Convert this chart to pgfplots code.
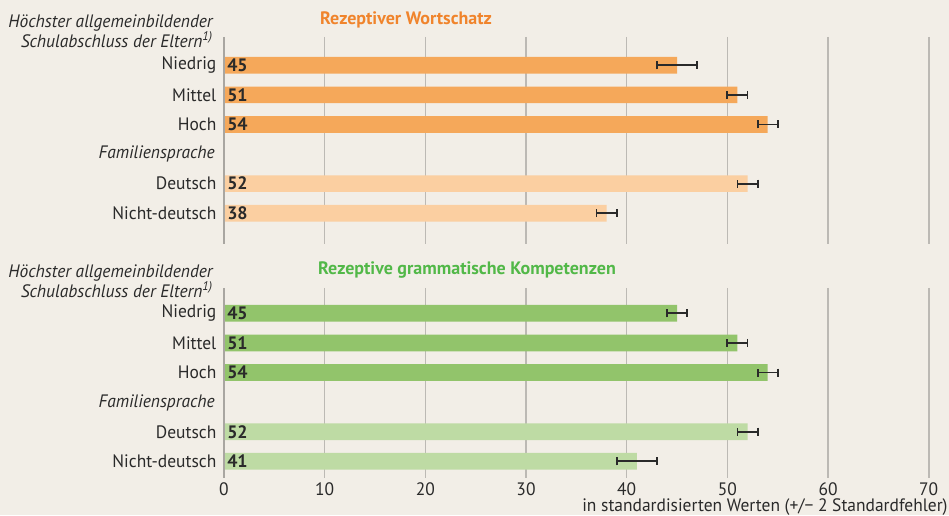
\documentclass[border=0pt]{standalone}
\usepackage{fontspec}
\setmainfont{PT Sans}[FakeStretch=0.97, BoldFeatures={FakeStretch=1.0}]
\usepackage{pgfplots}
\pgfplotsset{compat=1.18}
\definecolor{bgc}{HTML}{F2EEE7}
\definecolor{orA}{HTML}{F5A85A}
\definecolor{orB}{HTML}{FBCFA1}
\definecolor{grA}{HTML}{92C46B}
\definecolor{grB}{HTML}{BEDBA4}
\definecolor{tor}{HTML}{F0842C}
\definecolor{tgr}{HTML}{52B848}
\definecolor{gridc}{HTML}{BCB9B4}
\definecolor{yaxc}{HTML}{A9A6A1}
\definecolor{txt}{HTML}{2A2A2A}
\newcommand\lf{\fontsize{13.5pt}{15pt}\selectfont}
\tikzset{val/.style={anchor=west, font=\lf\bfseries, text=txt, inner sep=0pt}}
\pgfplotsset{
  panel/.style={scale only axis, width=543.75pt, xmin=0, xmax=72, y dir=reverse,
    xbar, bar shift=0pt, bar width=0.565,
    axis line style={draw=none}, major tick length=0pt,
    xmajorgrids, grid style={gridc, line width=1.2pt},
    xtick={0,10,...,70}, ytick={0,1,2,4,5},
    yticklabels={Niedrig,Mittel,Hoch,Deutsch,Nicht-deutsch},
    yticklabel style={font=\lf, text=txt, xshift=-2.2pt},
    xticklabel style={font=\lf, text=txt},
    clip=false, /pgf/number format/assume math mode=true,
    error bars/error bar style={line width=1.4pt, txt},
    error bars/error mark options={rotate=90, line width=1.4pt, mark size=3pt, txt}},
}
\begin{document}
\begin{tikzpicture}[x=0.75pt,y=-0.75pt]
\fill[bgc] (0,0) rectangle (949,515);
% Rezeptiver Wortschatz
\begin{axis}[panel, at={(168pt,-27.75pt)}, anchor=north west, height=155.25pt,
  ymin=-0.956, ymax=6.04, xticklabels={}]
\addplot[fill=orA, draw=none, error bars/.cd, x dir=both, x explicit]
  coordinates {(45,0) +- (2,0) (51,1) +- (1,0) (54,2) +- (1,0)};
\addplot[fill=orB, draw=none, error bars/.cd, x dir=both, x explicit]
  coordinates {(52,4) +- (1,0) (38,5) +- (1,0)};
\draw[yaxc, line width=1.5pt] (rel axis cs:0,0) -- (rel axis cs:0,1);
\node[val] at (axis cs:0.3,0) {45};
\node[val] at (axis cs:0.3,1) {51};
\node[val] at (axis cs:0.3,2) {54};
\node[val] at (axis cs:0.3,4) {52};
\node[val] at (axis cs:0.3,5) {38};
\end{axis}
% Rezeptive grammatische Kompetenzen
\begin{axis}[panel, at={(168pt,-216pt)}, anchor=north west, height=142.5pt,
  ymin=-0.855, ymax=5.56]
\addplot[fill=grA, draw=none, error bars/.cd, x dir=both, x explicit]
  coordinates {(45,0) +- (1,0) (51,1) +- (1,0) (54,2) +- (1,0)};
\addplot[fill=grB, draw=none, error bars/.cd, x dir=both, x explicit]
  coordinates {(52,4) +- (1,0) (41,5) +- (2,0)};
\draw[yaxc, line width=1.5pt] (rel axis cs:0,0) -- (rel axis cs:0,1);
\node[val] at (axis cs:0.3,0) {45};
\node[val] at (axis cs:0.3,1) {51};
\node[val] at (axis cs:0.3,2) {54};
\node[val] at (axis cs:0.3,4) {52};
\node[val] at (axis cs:0.3,5) {41};
\end{axis}
% titles and group headers
\node[anchor=west, font=\lf\bfseries, text=tor, inner sep=0pt] at (320,20) {Rezeptiver Wortschatz};
\node[anchor=west, font=\lf\bfseries, text=tgr, inner sep=0pt] at (318,270) {Rezeptive grammatische Kompetenzen};
\foreach \yy in {0,250}{
  \node[anchor=east, align=right, font=\lf\itshape, text=txt, inner sep=0pt] at (213,31.5+\yy)
    {Höchster allgemeinbildender\\Schulabschluss der Eltern\textsuperscript{1)}};
}
\node[anchor=east, font=\lf\itshape, text=txt, inner sep=0pt] at (215,154) {Familiensprache};
\node[anchor=east, font=\lf\itshape, text=txt, inner sep=0pt] at (215,403) {Familiensprache};
\node[anchor=base east, font=\lf, text=txt, inner sep=0pt] at (948,512) {in standardisierten Werten (+/− 2 Standardfehler)};
\end{tikzpicture}
\end{document}
